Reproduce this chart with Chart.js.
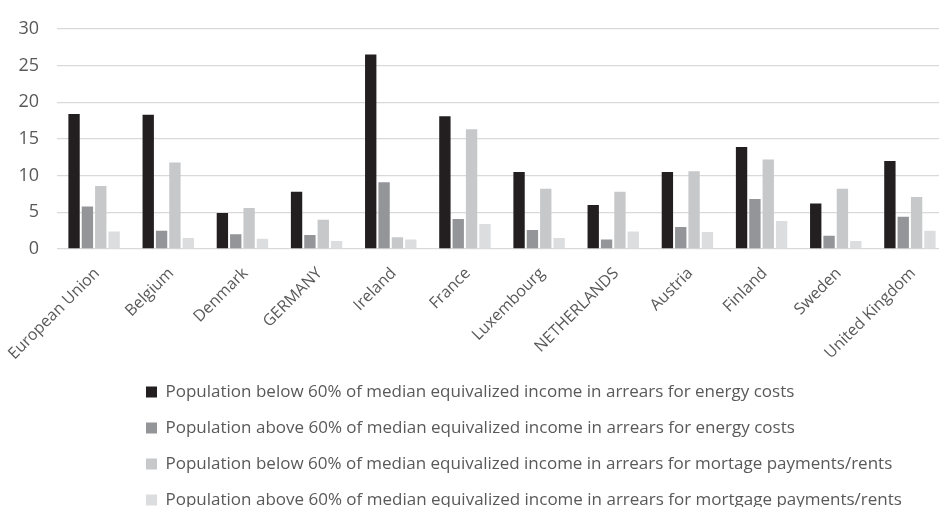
<!DOCTYPE html>
<html>
<head>
<meta charset="utf-8">
<script src="https://cdn.jsdelivr.net/npm/chart.js@4/dist/chart.umd.min.js"></script>
<style>
  html, body { margin: 0; padding: 0; background: #ffffff; }
  #wrap { width: 939px; height: 507px; overflow: hidden; position: relative; }
  canvas { display: block; }
</style>
</head>
<body>
<div id="wrap"><canvas id="chart" width="948" height="507"></canvas></div>
<script>
// Countries shown along the x axis
const categories = ['European Union', 'Belgium', 'Denmark', 'GERMANY', 'Ireland', 'France',
  'Luxembourg', 'NETHERLANDS', 'Austria', 'Finland', 'Sweden', 'United Kingdom'];

// Share of population (%) in arrears
const belowEnergy  = [18.4, 18.3, 4.9, 7.8, 26.5, 18.1, 10.5, 6.0, 10.5, 13.9, 6.2, 12.0];
const aboveEnergy  = [5.8, 2.5, 2.0, 1.9, 9.1, 4.1, 2.6, 1.3, 3.0, 6.8, 1.8, 4.4];
const belowHousing = [8.6, 11.8, 5.6, 4.0, 1.6, 16.3, 8.2, 7.8, 10.6, 12.2, 8.2, 7.1];
const aboveHousing = [2.4, 1.5, 1.4, 1.1, 1.3, 3.4, 1.5, 2.4, 2.3, 3.8, 1.1, 2.5];

const seriesNames = [
  'Population below 60% of median equivalized income in arrears for energy costs',
  'Population above 60% of median equivalized income in arrears for energy costs',
  'Population below 60% of median equivalized income in arrears for mortage payments/rents',
  'Population above 60% of median equivalized income in arrears for mortgage payments/rents'
];

const yTicks = [0, 5, 10, 15, 20, 25, 30];

const seriesColors = ['#231f20', '#939598', '#c7c8ca', '#dcdddf'];
const textColor = '#595959';
const gridColor = '#d9d9d9';

// Places the stacked legend block under the plot
const legendPlacement = {
  id: 'legendPlacement',
  beforeDraw(chart, args, opts) {
    const lg = chart.legend;
    if (!lg) return;
    lg.left = opts.left;
    lg.top = opts.top;
  }
};

const seriesValues = [belowEnergy, aboveEnergy, belowHousing, aboveHousing];

new Chart(document.getElementById('chart'), {
  type: 'bar',
  data: {
    labels: categories,
    datasets: seriesValues.map((vals, i) => ({
      label: seriesNames[i],
      data: vals,
      backgroundColor: seriesColors[i],
      borderWidth: 0,
      categoryPercentage: 0.72,
      barPercentage: 0.85
    }))
  },
  plugins: [legendPlacement],
  options: {
    responsive: false,
    animation: false,
    devicePixelRatio: 1,
    layout: { padding: { top: 19, left: 0, right: 1, bottom: 0 } },
    scales: {
      x: {
        grid: { display: false, drawTicks: false },
        border: { display: false },
        ticks: {
          color: textColor,
          font: { family: "'Open Sans', sans-serif", size: 16 },
          minRotation: 45,
          maxRotation: 45,
          autoSkip: false,
          padding: 15,
          labelOffset: 3
        },
        afterFit(scale) {
          // axis band reaches down to the legend so rotated labels are not cut
          scale.height = 238;
          scale.paddingLeft = 0;
          scale.paddingRight = 0;
        }
      },
      y: {
        min: 0,
        max: 30,
        afterBuildTicks(scale) {
          scale.ticks = yTicks.map(v => ({ value: v }));
        },
        grid: { color: gridColor, lineWidth: 1.3, drawTicks: false },
        border: { display: false },
        ticks: {
          color: textColor,
          font: { family: "'Open Sans', sans-serif", size: 18 },
          padding: 18
        },
        afterFit(scale) {
          scale.width = 57;
        }
      }
    },
    plugins: {
      tooltip: { enabled: false },
      legend: {
        position: 'bottom',
        align: 'start',
        maxHeight: 20,
        labels: {
          color: textColor,
          font: { family: "'Open Sans', sans-serif", size: 17 },
          boxWidth: 11,
          boxHeight: 11,
          padding: 19
        }
      },
      legendPlacement: { left: 127, top: 364.5 }
    }
  }
});
</script>
</body>
</html>
